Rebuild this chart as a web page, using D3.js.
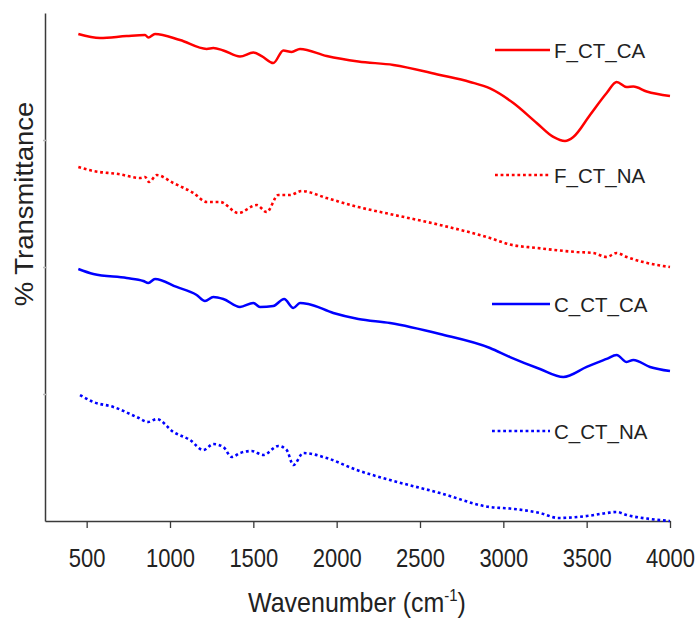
<!DOCTYPE html>
<html>
<head>
<meta charset="utf-8">
<script src="https://cdn.jsdelivr.net/npm/d3@7"></script>
<style>
  html, body { margin: 0; padding: 0; background: #fff; }
  svg { display: block; font-family: "Liberation Sans", Arial, Helvetica, sans-serif; }
</style>
</head>
<body>
<div id="chart"></div>
<script>
// ============================================
// FTIR spectra — offset % transmittance vs wavenumber
// ============================================

// series names, colours, dash styles
const seriesNames = ['F_CT_CA', 'F_CT_NA', 'C_CT_CA', 'C_CT_NA'];
const seriesColors = ['#ff0000', '#ff0000', '#0000ff', '#0000ff'];
const seriesDotted = [false, true, false, true];

// x tick labels
const xTicks = [500, 1000, 1500, 2000, 2500, 3000, 3500, 4000];

// wavenumber (cm-1) / transmittance (offset, arbitrary units) pairs
const fCtCaWave = [450, 580, 740, 850, 870, 910, 1060, 1220, 1260, 1320, 1420, 1500, 1550, 1620, 1680, 1730, 1780, 1940, 2130, 2340, 2620, 2800, 2920, 3060, 3200, 3300, 3370, 3420, 3520, 3620, 3680, 3740, 3780, 3860, 4000];
const fCtCaVal = [3.835, 3.803, 3.819, 3.827, 3.807, 3.835, 3.787, 3.717, 3.724, 3.705, 3.657, 3.689, 3.661, 3.606, 3.705, 3.693, 3.717, 3.661, 3.618, 3.591, 3.512, 3.457, 3.406, 3.291, 3.134, 3.024, 2.992, 3.024, 3.197, 3.370, 3.457, 3.417, 3.421, 3.382, 3.346];

const fCtNaWave = [450, 540, 690, 820, 850, 875, 920, 1020, 1140, 1220, 1300, 1410, 1520, 1580, 1650, 1720, 1790, 1940, 2130, 2320, 2620, 2920, 3040, 3200, 3440, 3540, 3620, 3680, 3740, 3840, 4000];
const fCtNaVal = [2.787, 2.756, 2.732, 2.701, 2.709, 2.669, 2.724, 2.661, 2.583, 2.512, 2.512, 2.425, 2.488, 2.433, 2.567, 2.567, 2.598, 2.543, 2.472, 2.417, 2.331, 2.228, 2.177, 2.150, 2.118, 2.110, 2.079, 2.110, 2.079, 2.039, 2.000];

const cCtCaWave = [450, 540, 740, 840, 870, 910, 1040, 1160, 1210, 1260, 1320, 1420, 1500, 1540, 1620, 1685, 1740, 1780, 1830, 1980, 2130, 2320, 2620, 2920, 3040, 3220, 3360, 3500, 3620, 3680, 3740, 3780, 3880, 4000];
const cCtCaVal = [1.984, 1.945, 1.913, 1.890, 1.874, 1.906, 1.843, 1.780, 1.732, 1.764, 1.748, 1.685, 1.717, 1.685, 1.693, 1.748, 1.677, 1.717, 1.709, 1.638, 1.591, 1.559, 1.472, 1.362, 1.291, 1.197, 1.134, 1.213, 1.276, 1.307, 1.252, 1.268, 1.213, 1.181];

const cCtNaWave = [460, 540, 660, 800, 870, 920, 1020, 1120, 1200, 1260, 1320, 1370, 1420, 1490, 1560, 1650, 1700, 1740, 1800, 1940, 2120, 2320, 2620, 2920, 3040, 3220, 3330, 3500, 3620, 3680, 3740, 3880, 4000];
const cCtNaVal = [0.992, 0.937, 0.898, 0.819, 0.780, 0.803, 0.701, 0.638, 0.559, 0.606, 0.583, 0.504, 0.535, 0.551, 0.520, 0.591, 0.559, 0.441, 0.535, 0.496, 0.402, 0.323, 0.220, 0.110, 0.098, 0.063, 0.024, 0.039, 0.063, 0.071, 0.047, 0.016, 0.000];

const width = 699, height = 618;
const margin = { left: 45, right: 29, top: 13, bottom: 97 };

const svg = d3.select('#chart').append('svg')
    .attr('width', width)
    .attr('height', height);

const x = d3.scaleLinear().domain([250, 4000]).range([margin.left, width - margin.right]);
const y = d3.scaleLinear().domain([0, 4]).range([height - margin.bottom, margin.top]);

const allWave = [fCtCaWave, fCtNaWave, cCtCaWave, cCtNaWave];
const allVal = [fCtCaVal, fCtNaVal, cCtCaVal, cCtNaVal];
const series = seriesNames.map((name, i) => ({
    name,
    color: seriesColors[i],
    dotted: seriesDotted[i],
    points: allWave[i].map((w, j) => ({ w, v: allVal[i][j] }))
}));

const axisColor = '#3a3a3a';

// X axis
const xAxis = svg.append('g')
    .attr('transform', `translate(0,${y(0)})`)
    .call(d3.axisBottom(x).tickValues(xTicks).tickFormat(d3.format('d'))
        .tickSize(7).tickSizeOuter(0).tickPadding(0));
xAxis.select('.domain').attr('stroke', axisColor).attr('stroke-width', 1.5);
xAxis.selectAll('.tick line').attr('stroke', axisColor).attr('stroke-width', 1.3);
xAxis.selectAll('.tick text')
    .attr('y', 0).attr('dy', null)
    .attr('transform', 'translate(0,46) scale(1,1.15)')
    .attr('fill', '#222')
    .style('font-size', '22px')
    .style('font-family', '"Liberation Sans", Arial, sans-serif');

// Y axis (no labels, faint ticks)
const yAxis = svg.append('g')
    .attr('transform', `translate(${x(250)},0)`)
    .call(d3.axisLeft(y).tickValues([1, 2, 3]).tickSize(2).tickSizeOuter(0).tickFormat(''));
yAxis.select('.domain').attr('stroke', axisColor).attr('stroke-width', 1.5);
yAxis.selectAll('.tick line').attr('stroke', '#bbb').attr('stroke-width', 1.5).attr('x2', 2).attr('x1', -2);

// Lines
const line = d3.line()
    .curve(d3.curveMonotoneX)
    .x(d => x(d.w))
    .y(d => y(d.v));

svg.append('g').selectAll('path')
    .data(series)
    .join('path')
    .attr('d', d => line(d.points))
    .attr('fill', 'none')
    .attr('stroke', d => d.color)
    .attr('stroke-width', d => d.dotted ? 2.6 : 2.5)
    .attr('stroke-dasharray', d => d.dotted ? '2.8,2.8' : null)
    .attr('stroke-linejoin', 'round');

// Legend — each entry sits beside its own curve
const legendY = [50, 175, 304, 431];
const legendX1 = [495, 495, 492, 492];
const legend = svg.append('g').selectAll('g')
    .data(series)
    .join('g')
    .attr('transform', (d, i) => `translate(0,${legendY[i]})`);

legend.append('line')
    .attr('x1', (d, i) => legendX1[i])
    .attr('x2', 550)
    .attr('stroke', d => d.color)
    .attr('stroke-width', 2.6)
    .attr('stroke-dasharray', d => d.dotted ? '2.8,2.8' : null);

legend.append('text')
    .attr('x', 554)
    .attr('y', 8)
    .attr('fill', '#222')
    .style('font-size', '20.5px')
    .text(d => d.name);

// Axis titles
const xTitle = svg.append('text')
    .attr('transform', 'translate(357,612) scale(1,1.1)')
    .attr('text-anchor', 'middle')
    .attr('fill', '#222')
    .style('font-size', '25px');
xTitle.append('tspan').text('Wavenumber (cm');
xTitle.append('tspan').attr('dy', -10).style('font-size', '15px').text('-1');
xTitle.append('tspan').attr('dy', 10).text(')');

svg.append('text')
    .attr('transform', 'translate(33,204) rotate(-90) scale(1.1,1)')
    .attr('text-anchor', 'middle')
    .attr('fill', '#222')
    .style('font-size', '25px')
    .text('% Transmittance');
</script>
</body>
</html>
